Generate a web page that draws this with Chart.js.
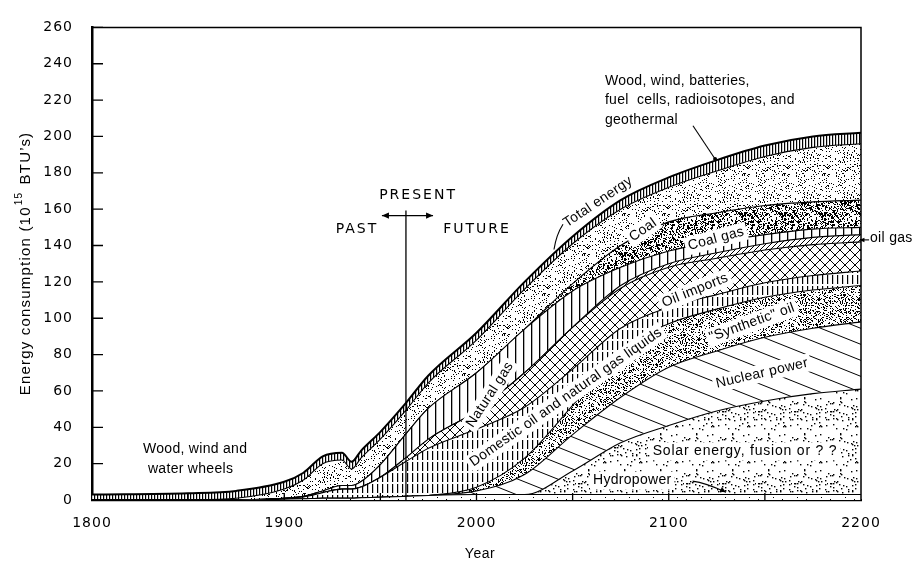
<!DOCTYPE html>
<html><head><meta charset="utf-8">
<script src="https://cdn.jsdelivr.net/npm/chart.js@4/dist/chart.umd.min.js"></script>
<style>html,body{margin:0;padding:0;background:#fff}canvas{display:block}</style>
</head><body>
<canvas id="c" width="919" height="563"></canvas>
<script>
// ---- data (10^15 BTU per year) ----
const years     = [1800,1850,1875,1900,1910,1920,1930,1935,1940,1950,1963,1975,2000,2025,2050,2075,2100,2125,2150,2175,2200];
const hydro     = [0,0,0,0.5,0.7,1,1,1,1.2,1.5,2,2.5,3,3,3,3,3,3,3,3,3];
const solar     = [0,0,0,0,0,0,0,0,0,0,0,0,0,0,13,28.5,38,46,51.5,55.5,58];
const nuclear   = [0,0,0,0,0,0,0,0,0,0,0,0,2,11,20,25,32,33,35,36,37];
const synthetic = [0,0,0,0,0,0,0,0,0,0,0,0,2,9,16,26,24,23,22,21,20];
const domestic  = [0,0,0,0.5,1,3,5,5,6,11,19,26,32,28,20,12,9,8,8,8,8];
const imports   = [0,0,0,0,0,0,0,0,0,0,2,5,10,19,23,22,22,20,18,17,16];
const oilGas    = [0,0,0,0,0,0,0,0,0,0,0,0,0,0,0,1.5,2,3,3.5,4,4];
const natGas    = [0,0,0,0,0.3,1,2,2,3,7,13,17,21,24,20,10,7,6,5,4.5,4];
const coalGas   = [0,0,0,0,0,0,0,0,0,0,0,0,0,0,4,12,16,16,16,15,15];
const coal      = [0,0.2,1,5,9,15,14,9,13,14,13,14,18,22,22,20,19,23,27,30,31];
const wood      = [3,3.5,4,4,4,4,4,4,4,4,4,4,4,4,4,5,5.5,6,6,6,6];
const yTicks    = [0,20,40,60,80,100,120,140,160,180,200,220,240,260];
const xTicks    = [1800,1900,2000,2100,2200];
const presentYear = 1963.3;

const canvas = document.getElementById('c');
const ctx = canvas.getContext('2d');

// ---- fill patterns ----
function rng(seed){let s=seed;return()=>{s=(s*16807)%2147483647;return s/2147483647;};}
function pattern(w,h,draw){
  const c=document.createElement('canvas');c.width=w;c.height=h;
  const g=c.getContext('2d');g.fillStyle='#fff';g.fillRect(0,0,w,h);
  g.fillStyle='#000';g.strokeStyle='#000';draw(g,w,h);
  return ctx.createPattern(c,'repeat');
}
function dots(n,sz,seed){return (g,w,h)=>{const r=rng(seed);for(let i=0;i<n;i++){g.fillRect(Math.floor(r()*w),Math.floor(r()*h),sz,sz);}};}
const P = {
  hydro: pattern(24,24,dots(8,1,11)),
  solar: pattern(36,36,dots(60,1.4,5)),
  nuclear: pattern(40,16,(g)=>{g.lineWidth=1;g.beginPath();for(const o of [-16,0,16]){g.moveTo(0,o);g.lineTo(40,o+16);}g.stroke();}),
  synthetic: pattern(40,40,dots(520,1,3)),
  domestic: pattern(5,11,(g)=>{g.fillRect(2,0,1.2,9);}),
  imports: pattern(10,10,(g)=>{g.lineWidth=1;g.beginPath();g.moveTo(-1,-1);g.lineTo(11,11);g.moveTo(11,-1);g.lineTo(-1,11);g.stroke();}),
  oilGas: pattern(5,5,(g)=>{g.lineWidth=1;g.beginPath();g.moveTo(-1,6);g.lineTo(6,-1);g.stroke();}),
  natGas: pattern(8,8,(g)=>{g.fillRect(3,0,1.3,8);}),
  coalGas: pattern(40,40,(g,w,h)=>{dots(650,1,17)(g,w,h);dots(40,2,23)(g,w,h);}),
  coal: pattern(40,40,dots(210,1,29)),
  wood: pattern(3,4,(g)=>{g.fillRect(1,0,1.2,4);})
};

function series(vals){return years.map((x,i)=>({x:x,y:vals[i]}));}
const layers = [
  ['Hydropower',hydro,P.hydro],
  ['Solar energy, fusion or ? ?',solar,P.solar],
  ['Nuclear power',nuclear,P.nuclear],
  ['"Synthetic" oil',synthetic,P.synthetic],
  ['Domestic oil and natural gas liquids',domestic,P.domestic],
  ['Oil imports',imports,P.imports],
  ['oil gas',oilGas,P.oilGas],
  ['Natural gas',natGas,P.natGas],
  ['Coal gas',coalGas,P.coalGas],
  ['Coal',coal,P.coal],
  ['Wood, wind, batteries, fuel cells, radioisotopes, and geothermal',wood,P.wood]
];
const datasets = layers.map((l,i)=>({
  label:l[0], data:series(l[1]), backgroundColor:l[2], borderColor:'#000',
  borderWidth: i===layers.length-1 ? 2 : 1.1, pointRadius:0, fill: i===0 ? 'origin' : '-1',
  cubicInterpolationMode:'monotone'
}));

// ---- annotations (positions in data units) ----
const LF = '14px "Liberation Sans", Arial, sans-serif';
const labels = [
  {t:'Wood, wind and', x:1826.5, y:27.9, align:'left'},
  {t:'water wheels', x:1829.1, y:17.2, align:'left'},
  {t:'PRESENT', x:1969.6, y:167.8, font:'14px "DejaVu Sans", sans-serif', ls:'2px'},
  {t:'PAST', x:1937.8, y:149.0, font:'14px "DejaVu Sans", sans-serif', ls:'2px'},
  {t:'FUTURE', x:2000.3, y:149.0, font:'14px "DejaVu Sans", sans-serif', ls:'2px'},
  {t:'Total energy', x:2063.2, y:164.0, rot:-34},
  {t:'Wood, wind, batteries,', x:2066.8, y:230.5, align:'left'},
  {t:'fuel  cells, radioisotopes, and', x:2066.8, y:219.8, align:'left'},
  {t:'geothermal', x:2066.8, y:209.1, align:'left'},
  {t:'Coal', x:2086.6, y:148.5, rot:-35, knock:true},
  {t:'Coal gas', x:2124.6, y:143.7, rot:-15, knock:true},
  {t:'oil gas', x:2204.7, y:144.2, align:'left'},
  {t:'Oil imports', x:2113.7, y:115.3, rot:-22, knock:true},
  {t:'Natural gas', x:2007.0, y:57.9, rot:-57, knock:true},
  {t:'Domestic oil and natural gas liquids', x:2046.5, y:56.5, rot:-35, knock:true},
  {t:'"Synthetic" oil', x:2143.3, y:97.6, rot:-20, knock:true},
  {t:'Nuclear power', x:2148.5, y:69.7, rot:-13, knock:true},
  {t:'Solar energy, fusion or ? ?', x:2139.7, y:26.8, knock:true, ls:'0.8px'},
  {t:'Hydropower', x:2060.6, y:10.7, align:'left', knock:true}
];

function arrowHead(c,x,y,ang,size){
  c.save();c.translate(x,y);c.rotate(ang);c.beginPath();c.moveTo(0,0);c.lineTo(-size,-size*0.45);c.lineTo(-size,size*0.45);c.closePath();c.fill();c.restore();
}

const deco = {
  id:'deco',
  afterDatasetsDraw(ch){
    const c=ch.ctx, X=ch.scales.x, Y=ch.scales.y, a=ch.chartArea;
    const px=v=>X.getPixelForValue(v), py=v=>Y.getPixelForValue(v);
    c.save();
    c.strokeStyle='#000';c.fillStyle='#000';
    // frame (top, right)
    c.lineWidth=1.5;c.beginPath();c.moveTo(a.left,a.top);c.lineTo(a.right,a.top);c.lineTo(a.right,a.bottom);c.stroke();
    // inward ticks
    c.lineWidth=1.3;c.beginPath();
    yTicks.forEach(v=>{if(v>0){c.moveTo(a.left,py(v));c.lineTo(a.left+11,py(v));}});
    for(let yr=1850;yr<2200;yr+=50){c.moveTo(px(yr),a.bottom);c.lineTo(px(yr),a.bottom-7);}
    c.stroke();
    // present marker
    c.lineWidth=1.3;c.beginPath();c.moveTo(px(presentYear),py(159.2));c.lineTo(px(presentYear),a.bottom);c.stroke();
    const ay=py(156.5), ax1=px(1950.8), ax2=px(1977.4);
    c.beginPath();c.moveTo(ax1,ay);c.lineTo(ax2,ay);c.stroke();
    arrowHead(c,ax1,ay,Math.PI,7);arrowHead(c,ax2,ay,0,7);
    // leaders
    c.lineWidth=1.1;
    c.beginPath();c.moveTo(px(2040.3),py(137.8));c.quadraticCurveTo(px(2041.5),py(146),px(2045.0),py(151.7));c.stroke();
    c.beginPath();c.moveTo(px(2112.6),py(205.9));c.lineTo(px(2124.1),py(187.6));c.stroke();
    c.beginPath();c.arc(px(2124.1),py(187.6),2,0,Math.PI*2);c.fill();
    c.beginPath();c.moveTo(px(2204.2),py(143.1));c.lineTo(px(2199.5),py(143.1));c.stroke();
    arrowHead(c,px(2199.2),py(143.1),Math.PI,5);
    // labels
    labels.forEach(l=>{
      c.save();
      c.translate(px(l.x),py(l.y));
      if(l.rot) c.rotate(l.rot*Math.PI/180);
      c.font=l.font||LF; c.letterSpacing=l.ls||'0.3px';
      c.textBaseline='middle';
      const al=l.align||'center'; c.textAlign=al;
      const w=c.measureText(l.t).width;
      if(l.knock){const x0=al==='left'?-3:-w/2-3;c.fillStyle='#fff';c.fillRect(x0,-9,w+6,18);}
      c.fillStyle='#000';c.fillText(l.t,0,0);
      c.restore();
    });
    // hydropower arrow
    c.lineWidth=1.1;
    const hx0=px(2112.4),hy0=py(10.4),hx1=px(2129.8),hy1=py(4.3);
    c.beginPath();c.moveTo(hx0,hy0);c.quadraticCurveTo(px(2119),py(9.5),hx1,hy1);c.stroke();
    arrowHead(c,hx1,hy1,Math.atan2(hy1-py(8),hx1-px(2123)),6);
    // axis titles
    c.letterSpacing='0.5px';
    c.font='14px "Liberation Sans", Arial, sans-serif';c.textAlign='center';c.textBaseline='middle';
    c.fillText('Year',480,554);
    c.save();c.translate(26,264);c.rotate(-Math.PI/2);
    c.letterSpacing='1.2px';
    const f1='15px "Liberation Sans", Arial, sans-serif', f2='10px "Liberation Sans", Arial, sans-serif';
    const p1='Energy consumption (10', p2='15', p3=' BTU\u2019s)';
    c.font=f1;const w1=c.measureText(p1).width, w3=c.measureText(p3).width;
    c.font=f2;const w2=c.measureText(p2).width+2;
    let sx=-(w1+w2+w3)/2;c.textAlign='left';
    c.font=f1;c.fillText(p1,sx,0);sx+=w1+1;
    c.font=f2;c.fillText(p2,sx,-7);sx+=w2;
    c.font=f1;c.fillText(p3,sx,0);
    c.restore();
    c.restore();
  }
};

const tickFont={family:'"DejaVu Sans", sans-serif',size:14};
const chart = new Chart(ctx,{
  type:'line',
  data:{datasets:datasets},
  options:{
    responsive:false, animation:false, devicePixelRatio:1,
    layout:{padding:{left:0,right:58,top:15,bottom:0}},
    plugins:{legend:{display:false},tooltip:{enabled:false}},
    elements:{line:{tension:0.4}},
    scales:{
      x:{type:'linear',min:1800,max:2200,
         afterBuildTicks:s=>{s.ticks=xTicks.map(v=>({value:v}));},
         afterFit:s=>{s.height=63;},
         grid:{display:false,drawTicks:false},
         border:{display:true,color:'#000',width:2.2},
         ticks:{color:'#000',font:tickFont,padding:15,maxRotation:0,autoSkip:false,callback:v=>String(v)}},
      y:{type:'linear',min:0,max:260,stacked:true,
         afterBuildTicks:s=>{s.ticks=yTicks.map(v=>({value:v}));},
         afterFit:s=>{s.width=92;},
         grid:{display:false,drawTicks:false},
         border:{display:true,color:'#000',width:2.5},
         ticks:{color:'#000',font:tickFont,padding:19,autoSkip:false,callback:v=>String(v)}}
    }
  },
  plugins:[{id:'ls',beforeDraw(ch){ch.ctx.letterSpacing='1px';},afterDatasetsDraw(ch){ch.ctx.letterSpacing='0px';}},deco]
});
</script>
</body></html>
